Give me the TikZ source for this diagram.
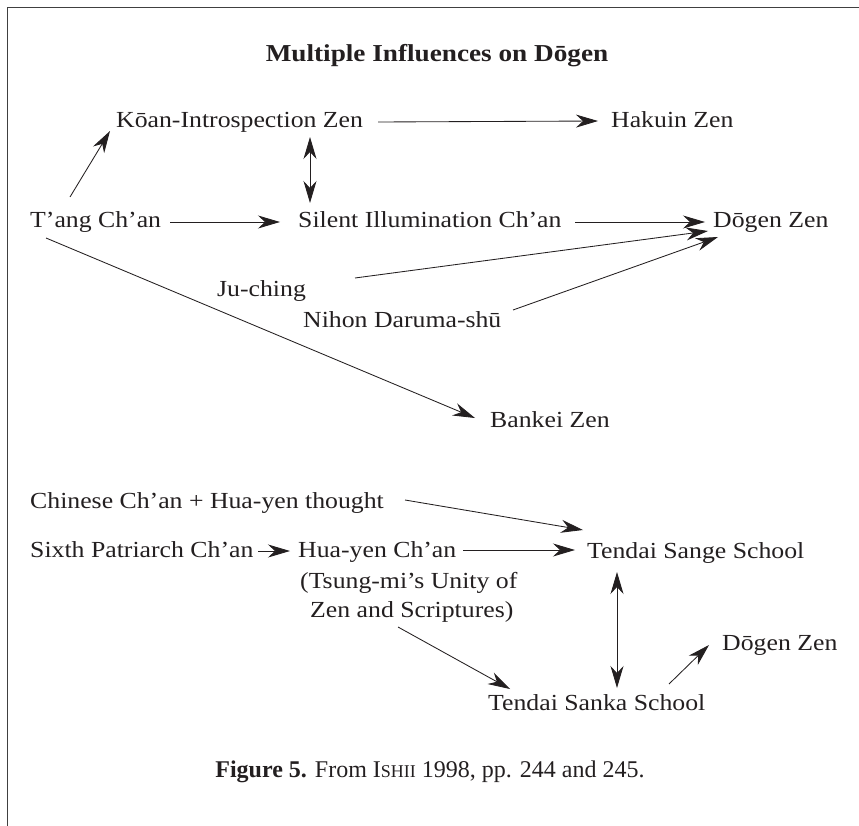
\documentclass[tikz,border=0pt]{standalone}
\usepackage{fontspec}
\setmainfont{Liberation Serif}[FakeStretch=1.12]
\newfontfamily\capfont{Liberation Serif}
\usetikzlibrary{arrows.meta}
\definecolor{ink}{HTML}{231F20}
\tikzset{
  lbl/.style={inner sep=0pt, anchor=base west},
  tipA/.tip={Stealth[length=22pt,width=13pt,inset=7pt]},
  arr/.style={draw=ink, line width=0.85pt, -tipA},
  darr/.style={draw=ink, line width=0.85pt, tipA-tipA},
  frameline/.style={draw=black!75, line width=1pt}
}
\begin{document}
\begin{tikzpicture}[x=1pt, y=-1pt, font=\fontsize{23}{28}\selectfont, text=ink]
\useasboundingbox (0,0) rectangle (859,826);
\draw[frameline] (7,826) -- (7,8) -- (859,8);

\node[inner sep=0pt, anchor=base, font=\bfseries\fontsize{24.3}{28}\selectfont] (title) at (437,62) {Multiple Influences on Dōgen};

\node[lbl] (koan) at (116,128) {Kōan-Introspection Zen};
\node[lbl] (hakuin) at (611,128) {Hakuin Zen};
\node[lbl] (tang) at (30,228) {T’ang Ch’an};
\node[lbl] (silent) at (298,228) {Silent Illumination Ch’an};
\node[lbl] (dogena) at (713,228) {Dōgen Zen};
\node[lbl] (juching) at (217,297) {Ju-ching};
\node[lbl] (nihon) at (303,327) {Nihon Daruma-shū};
\node[lbl] (bankei) at (490,427) {Bankei Zen};

\node[lbl] (chinese) at (30,508) {Chinese Ch’an + Hua-yen thought};
\node[lbl] (sixth) at (30,557) {Sixth Patriarch Ch’an};
\node[lbl] (huayen) at (298,557) {Hua-yen Ch’an};
\node[lbl] (tsunga) at (300,588) {(Tsung-mi’s Unity of};
\node[lbl] (tsungb) at (310,617) {Zen and Scriptures)};
\node[lbl] (sange) at (587,558) {Tendai Sange School};
\node[lbl] (sanka) at (488,710) {Tendai Sanka School};
\node[lbl] (dogenb) at (722,650) {Dōgen Zen};

\node[inner sep=0pt, anchor=base, font=\capfont\fontsize{24}{28}\selectfont] (caption) at (430,777) {\textbf{Figure 5.} From I{\fontsize{18}{20}\selectfont SHII} 1998, pp. 244 and 245.};

\draw[arr] ([shift={(262,-6)}]koan.base west) -- ([shift={(-13,-7)}]hakuin.base west);
\draw[darr] ([shift={(194,9)}]koan.base west) -- ([shift={(12,-25)}]silent.base west);
\draw[arr] ([shift={(40,-31)}]tang.base west) -- ([shift={(-6,3)}]koan.base west);
\draw[arr] ([shift={(140,-6)}]tang.base west) -- ([shift={(-18,-6)}]silent.base west);
\draw[arr] ([shift={(277,-6)}]silent.base west) -- ([shift={(-8,-6)}]dogena.base west);
\draw[arr] ([shift={(138,-19)}]juching.base west) -- ([shift={(-5,3)}]dogena.base west);
\draw[arr] ([shift={(210,-17)}]nihon.base west) -- ([shift={(5,9)}]dogena.base west);
\draw[arr] ([shift={(16,10)}]tang.base west) -- ([shift={(-15,-9)}]bankei.base west);

\draw[arr] ([shift={(375,-8)}]chinese.base west) -- ([shift={(-4,-28)}]sange.base west);
\draw[arr] ([shift={(228,-6)}]sixth.base west) -- ([shift={(-8,-6)}]huayen.base west);
\draw[arr] ([shift={(165,-7)}]huayen.base west) -- ([shift={(-12,-8)}]sange.base west);
\draw[darr] ([shift={(30,14)}]sange.base west) -- ([shift={(129,-22)}]sanka.base west);
\draw[arr] ([shift={(88,10)}]tsungb.base west) -- ([shift={(22,-21)}]sanka.base west);
\draw[arr] ([shift={(181,-26)}]sanka.base west) -- ([shift={(-13,-5)}]dogenb.base west);
\end{tikzpicture}
\end{document}
